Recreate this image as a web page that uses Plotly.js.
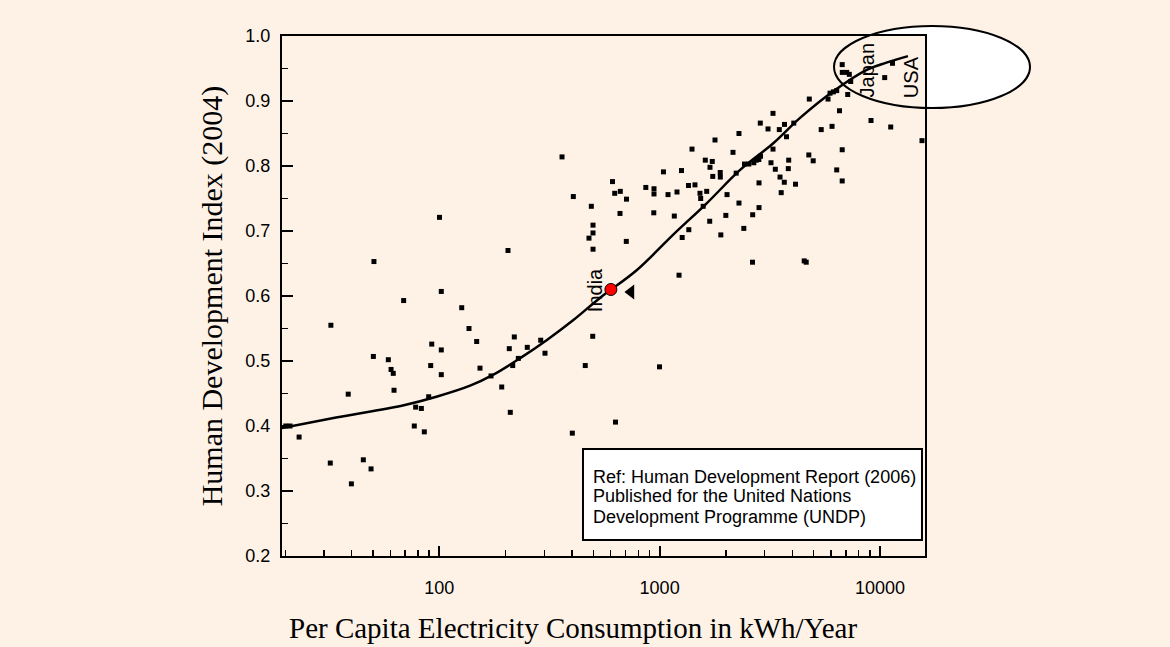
<!DOCTYPE html>
<html>
<head>
<meta charset="utf-8">
<script src="https://cdn.plot.ly/plotly-3.0.1.min.js"></script>
<style>
  html, body { margin: 0; padding: 0; background: #FEF2E7; }
  #chart { width: 1170px; height: 647px; }
</style>
</head>
<body>
<div id="chart"></div>
<script>
// Per capita electricity consumption (kWh/year) of each country
const kwh = [20.1, 21.0, 23.1, 32.2, 32.0, 38.6, 39.9, 45.2, 49.0, 50.2,
  50.5, 58.7, 60.4, 61.8, 62.3, 68.9, 77.0, 78.1, 82.9, 85.5,
  89.5, 91.4, 92.4, 100.2, 102.1, 102.1, 102.1, 126.4, 136.4, 147.8,
  153.0, 171.7, 192.0, 205.0, 207.8, 210.0, 215.4, 219.0, 228.4, 250.8,
  288.6, 301.8, 360.6, 401.6, 405.8, 459.8, 478.0, 489.8, 497.0, 498.6,
  498.6, 498.6, 611.2, 625.5, 630.7, 663.1, 661.0, 707.3, 705.9, 865.7,
  943, 943, 941, 998.8, 1041, 1092, 1166, 1199, 1225, 1257,
  1266, 1352, 1357, 1403, 1447, 1525, 1536, 1577, 1612, 1636,
  1693, 1688, 1734, 1743, 1784, 1884, 1886, 1896, 1998, 2023,
  2153, 2226, 2292, 2292, 2411, 2428, 2540, 2640, 2645, 2676,
  2747, 2820, 2871, 2826, 2826, 2864, 3105, 3203, 3271, 3271,
  3351, 3494, 3520, 3564, 3689, 3681, 3767, 3838, 3854, 4064,
  4137, 4532, 4628, 4756, 4780, 4979, 5414, 5813, 5936, 6144,
  6366, 6062, 6366, 6554, 6742, 6742, 6742, 6749, 7068, 7261,
  7142, 7369, 9110, 10512, 11194, 11405, 15524];
// Human Development Index (2004) of each country
const hdi = [0.400, 0.400, 0.383, 0.555, 0.343, 0.449, 0.311, 0.348, 0.334, 0.507,
  0.653, 0.502, 0.487, 0.481, 0.455, 0.593, 0.400, 0.429, 0.427, 0.391,
  0.445, 0.493, 0.526, 0.721, 0.607, 0.517, 0.479, 0.582, 0.550, 0.530,
  0.489, 0.477, 0.460, 0.670, 0.519, 0.421, 0.493, 0.537, 0.504, 0.521,
  0.532, 0.512, 0.814, 0.389, 0.753, 0.493, 0.689, 0.738, 0.538, 0.709,
  0.697, 0.672, 0.776, 0.758, 0.406, 0.761, 0.727, 0.749, 0.684, 0.767,
  0.765, 0.757, 0.728, 0.491, 0.791, 0.756, 0.723, 0.760, 0.632, 0.793,
  0.690, 0.770, 0.702, 0.826, 0.771, 0.758, 0.750, 0.738, 0.809, 0.761,
  0.798, 0.715, 0.807, 0.784, 0.840, 0.790, 0.783, 0.694, 0.724, 0.756,
  0.821, 0.789, 0.850, 0.743, 0.704, 0.803, 0.803, 0.652, 0.725, 0.805,
  0.809, 0.810, 0.815, 0.774, 0.736, 0.866, 0.857, 0.805, 0.881, 0.826,
  0.795, 0.856, 0.783, 0.759, 0.864, 0.775, 0.845, 0.796, 0.809, 0.866,
  0.772, 0.654, 0.652, 0.817, 0.903, 0.808, 0.856, 0.903, 0.912, 0.914,
  0.916, 0.861, 0.794, 0.885, 0.825, 0.777, 0.956, 0.944, 0.944, 0.941,
  0.910, 0.930, 0.870, 0.936, 0.860, 0.958, 0.839];

// Fitted trend curve
const curveX = [19.3, 34, 69, 97, 138, 176, 232, 307, 406, 536, 789, 1150, 1640, 2320, 3280, 4340, 6140, 8710, 10700, 13400];
const curveY = [0.397, 0.413, 0.432, 0.445, 0.462, 0.479, 0.504, 0.532, 0.563, 0.597, 0.640, 0.694, 0.743, 0.794, 0.835, 0.874, 0.915, 0.948, 0.959, 0.969];

// Highlighted country and pointer
const indiaX = [601];
const indiaY = [0.61];
const arrowX = [741];
const arrowY = [0.606];

// Label positions (data units)
const labelText = ['India', 'Japan', 'USA'];
const labelX = [509, 8740, 13770];
const labelY = [0.609, 0.947, 0.936];

// Axis ticks
const xTickVals = [100, 1000, 10000];
const xTickText = ['100', '1000', '10000'];
const xMinorVals = [20, 30, 40, 50, 60, 70, 80, 90, 200, 300, 400, 500, 600, 700, 800, 900,
  2000, 3000, 4000, 5000, 6000, 7000, 8000, 9000];

const xTitle = 'Per Capita Electricity Consumption in kWh/Year';
const yTitle = 'Human Development Index (2004)';

const cream = '#FEF2E7';
const sans = 'Arial, "Liberation Sans", sans-serif';
const serif = '"Times New Roman", "Liberation Serif", serif';

const traces = [
  { x: kwh, y: hdi, type: 'scatter', mode: 'markers',
    marker: { symbol: 'square', size: 5, color: '#000' }, hoverinfo: 'x+y' },
  { x: curveX, y: curveY, type: 'scatter', mode: 'lines',
    line: { color: '#000', width: 2.5, shape: 'spline', smoothing: 1 }, hoverinfo: 'skip' },
  { x: indiaX, y: indiaY, type: 'scatter', mode: 'markers',
    marker: { symbol: 'circle', size: 12, color: '#FF0000', line: { color: '#000', width: 1 } } },
  { x: arrowX, y: arrowY, type: 'scatter', mode: 'markers',
    marker: { symbol: 'triangle-left', size: 13, color: '#000' }, hoverinfo: 'skip' }
];

const labelAnnotations = labelText.map((t, i) => ({
  x: Math.log10(labelX[i]), y: labelY[i], text: t, showarrow: false, textangle: -90,
  font: { family: sans, size: 20 }, xanchor: 'center', yanchor: 'middle'
}));

const layout = {
  width: 1170, height: 647,
  paper_bgcolor: cream, plot_bgcolor: cream,
  showlegend: false,
  margin: { l: 282, r: 245, t: 36, b: 91 },
  font: { family: sans, size: 18, color: '#000' },
  xaxis: {
    type: 'log', range: [1.286, 4.2046],
    tickmode: 'array', tickvals: xTickVals, ticktext: xTickText,
    ticks: 'inside', ticklen: 10, tickwidth: 2, tickcolor: '#000',
    minor: { tickmode: 'array', tickvals: xMinorVals, ticks: 'inside', ticklen: 6, tickwidth: 1.5, tickcolor: '#000' },
    showline: true, linewidth: 2, linecolor: '#000', mirror: true,
    showgrid: false, zeroline: false,
    ticklabelstandoff: 14,
    tickfont: { family: sans, size: 18 }
  },
  yaxis: {
    range: [0.2, 1.0], tick0: 0.2, dtick: 0.1, tickformat: '.1f',
    ticks: 'inside', ticklen: 11, tickwidth: 2, tickcolor: '#000',
    minor: { dtick: 0.05, ticks: 'inside', ticklen: 6, tickwidth: 1.5, tickcolor: '#000' },
    showline: true, linewidth: 2, linecolor: '#000', mirror: true,
    showgrid: false, zeroline: false,
    ticklabelstandoff: 6,
    tickfont: { family: sans, size: 18 },
    title: { text: yTitle, font: { family: serif, size: 30 }, standoff: 14 }
  },
  shapes: [
    { type: 'circle', xref: 'paper', yref: 'paper', x0: 0.8585, x1: 1.1633, y0: 0.8615, y1: 1.0192,
      fillcolor: '#FFFFFF', line: { width: 0 }, layer: 'below' },
    { type: 'rect', xref: 'paper', yref: 'paper', x0: 0, x1: 1, y0: 0, y1: 1,
      fillcolor: cream, line: { width: 0 }, layer: 'below' },
    { type: 'circle', xref: 'paper', yref: 'paper', x0: 0.8585, x1: 1.1633, y0: 0.8615, y1: 1.0192,
      line: { color: '#000', width: 2 }, layer: 'above' },
    { type: 'rect', xref: 'paper', yref: 'paper', x0: 0.4681, x1: 0.9953, y0: 0.0308, y1: 0.2058,
      fillcolor: '#FFFFFF', line: { color: '#000', width: 2 }, layer: 'above' }
  ],
  annotations: [
    { xref: 'paper', yref: 'paper', x: 0.4526, y: -0.1385, xanchor: 'center', yanchor: 'middle',
      text: xTitle, showarrow: false, font: { family: serif, size: 29 } },
    { xref: 'paper', yref: 'paper', x: 0.4806, y: 0.1525, xanchor: 'left', yanchor: 'middle',
      text: 'Ref: Human Development Report (2006)', showarrow: false, font: { family: sans, size: 18 } },
    { xref: 'paper', yref: 'paper', x: 0.4806, y: 0.1154, xanchor: 'left', yanchor: 'middle',
      text: 'Published for the United Nations', showarrow: false, font: { family: sans, size: 18 } },
    { xref: 'paper', yref: 'paper', x: 0.4806, y: 0.0756, xanchor: 'left', yanchor: 'middle',
      text: 'Development Programme (UNDP)', showarrow: false, font: { family: sans, size: 18 } }
  ].concat(labelAnnotations)
};

Plotly.newPlot('chart', traces, layout, { displayModeBar: false, staticPlot: true });
</script>
</body>
</html>
